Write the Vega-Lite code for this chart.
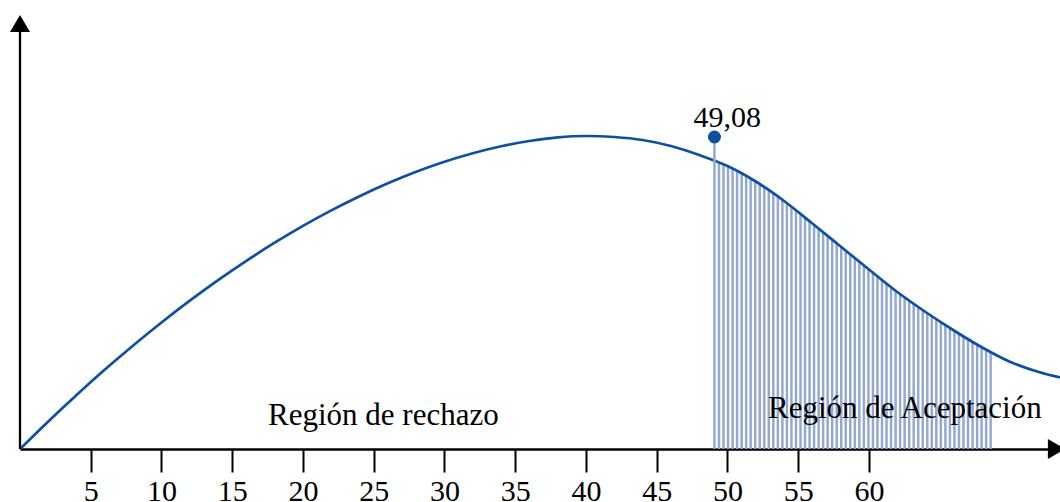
{
  "$schema": "https://vega.github.io/schema/vega-lite/v6.json",
  "width": 1040,
  "height": 449,
  "autosize": {"type": "none"},
  "padding": {"left": 20, "right": 0, "top": 0, "bottom": 53},
  "background": "white",
  "config": {"view": {"stroke": null}},
  "datasets": {
    "curve": [
      {"x": 0, "y": 0}, {"x": 2, "y": 27.6}, {"x": 4, "y": 54}, {"x": 6, "y": 79.4}, {"x": 8, "y": 103.5},
      {"x": 10, "y": 126.5}, {"x": 12, "y": 148.3}, {"x": 14, "y": 168.9}, {"x": 16, "y": 188.2},
      {"x": 18, "y": 206.3}, {"x": 20, "y": 223.1}, {"x": 22, "y": 238.6}, {"x": 24, "y": 252.8},
      {"x": 26, "y": 265.7}, {"x": 28, "y": 277.2}, {"x": 30, "y": 287.2}, {"x": 32, "y": 295.7},
      {"x": 34, "y": 302.7}, {"x": 36, "y": 308}, {"x": 38, "y": 311.6}, {"x": 40, "y": 313},
      {"x": 42, "y": 312}, {"x": 44, "y": 309}, {"x": 46, "y": 303}, {"x": 48, "y": 294},
      {"x": 50, "y": 283}, {"x": 52, "y": 267.5}, {"x": 54, "y": 248}, {"x": 56, "y": 225.5},
      {"x": 58, "y": 202.5}, {"x": 60, "y": 179.5}, {"x": 62, "y": 157}, {"x": 64, "y": 137},
      {"x": 66, "y": 118.5}, {"x": 68, "y": 101.5}, {"x": 70, "y": 87}, {"x": 72, "y": 77}, {"x": 73.5, "y": 71.5}
    ],
    "hatch": [
      {"x": 49.40}, {"x": 49.72}, {"x": 50.04}, {"x": 50.36}, {"x": 50.68}, {"x": 51.00}, {"x": 51.32}, {"x": 51.64},
      {"x": 51.96}, {"x": 52.28}, {"x": 52.60}, {"x": 52.92}, {"x": 53.24}, {"x": 53.56}, {"x": 53.88}, {"x": 54.20},
      {"x": 54.52}, {"x": 54.84}, {"x": 55.16}, {"x": 55.48}, {"x": 55.80}, {"x": 56.12}, {"x": 56.44}, {"x": 56.76},
      {"x": 57.08}, {"x": 57.40}, {"x": 57.72}, {"x": 58.04}, {"x": 58.36}, {"x": 58.68}, {"x": 59.00}, {"x": 59.32},
      {"x": 59.64}, {"x": 59.96}, {"x": 60.28}, {"x": 60.60}, {"x": 60.92}, {"x": 61.24}, {"x": 61.56}, {"x": 61.88},
      {"x": 62.20}, {"x": 62.52}, {"x": 62.84}, {"x": 63.16}, {"x": 63.48}, {"x": 63.80}, {"x": 64.12}, {"x": 64.44},
      {"x": 64.76}, {"x": 65.08}, {"x": 65.40}, {"x": 65.72}, {"x": 66.04}, {"x": 66.36}, {"x": 66.68}, {"x": 67.00},
      {"x": 67.32}, {"x": 67.64}, {"x": 67.96}, {"x": 68.28}, {"x": 68.60}
    ],
    "critical": [{"x": 49.08, "y": 312, "label": "49,08"}],
    "regions": [
      {"x": 17.53, "y": 23.7, "text": "Región de rechazo"},
      {"x": 52.86, "y": 31.4, "text": "Región de Aceptación"}
    ]
  },
  "encoding": {
    "x": {
      "field": "x", "type": "quantitative",
      "scale": {"domain": [0, 73.5], "nice": false, "zero": false},
      "axis": {
        "values": [5, 10, 15, 20, 25, 30, 35, 40, 45, 50, 55, 60],
        "title": null, "grid": false,
        "domainColor": "black", "domainWidth": 2.3,
        "tickColor": "black", "tickWidth": 2, "tickSize": 23,
        "labelFont": "Liberation Serif", "labelFontSize": 30, "labelColor": "black",
        "labelPadding": 4, "labelBound": false, "labelFlush": false, "labelOverlap": false
      }
    },
    "y": {
      "field": "y", "type": "quantitative",
      "scale": {"domain": [0, 449], "nice": false, "zero": false},
      "axis": null
    }
  },
  "layer": [
    {
      "data": {"name": "hatch"},
      "mark": {"type": "rule", "color": "#93a9d2", "strokeWidth": 2.5, "invalid": "show"},
      "encoding": {"y": {"datum": 0}, "y2": {"datum": 320}}
    },
    {
      "data": {"name": "curve"},
      "mark": {"type": "area", "orient": "vertical", "fill": "white", "opacity": 1, "interpolate": "monotone"},
      "encoding": {"y2": {"datum": 449}}
    },
    {
      "data": {"name": "curve"},
      "mark": {"type": "line", "color": "#0f4fa0", "strokeWidth": 2.7, "interpolate": "monotone"}
    },
    {
      "data": {"name": "critical"},
      "mark": {"type": "rule", "color": "#93a9d2", "strokeWidth": 2.5},
      "encoding": {"y": {"datum": 0}, "y2": {"field": "y"}}
    },
    {
      "data": {"name": "critical"},
      "mark": {"type": "point", "filled": true, "opacity": 1, "color": "#0f4fa0", "size": 169, "shape": "circle"}
    },
    {
      "data": {"name": "critical"},
      "mark": {"type": "text", "font": "Liberation Serif", "fontSize": 30, "color": "black", "align": "left", "baseline": "alphabetic", "dx": -21, "dy": -10},
      "encoding": {"text": {"field": "label"}}
    },
    {
      "data": {"name": "regions"},
      "mark": {"type": "text", "font": "Liberation Serif", "fontSize": 31, "color": "black", "align": "left", "baseline": "alphabetic"},
      "encoding": {"text": {"field": "text"}}
    },
    {
      "data": {"values": [{"x": 0}]},
      "mark": {"type": "rule", "color": "black", "strokeWidth": 2.3, "invalid": "show"},
      "encoding": {"y": {"datum": 0}, "y2": {"datum": 424}}
    },
    {
      "data": {"values": [{"x": 0, "y": 424}]},
      "mark": {"type": "point", "filled": true, "opacity": 1, "color": "black", "size": 400, "shape": "M0,-1L1,0.7L-1,0.7Z"}
    },
    {
      "data": {"values": [{"x": 73.14, "y": 0}]},
      "mark": {"type": "point", "filled": true, "opacity": 1, "color": "black", "size": 400, "shape": "M1,0L-0.7,-1L-0.7,1Z"}
    }
  ]
}
